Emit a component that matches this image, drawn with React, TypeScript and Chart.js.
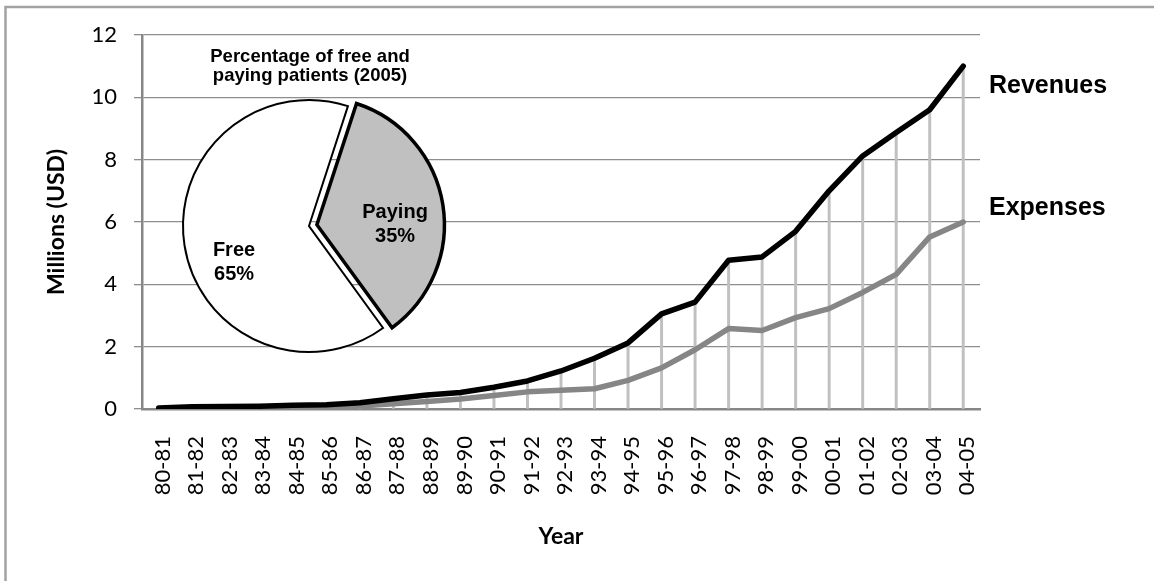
import React, { useEffect, useRef } from 'react';
import { Chart, registerables } from 'chart.js';

Chart.register(...registerables);

const YEARS = [
  '80-81', '81-82', '82-83', '83-84', '84-85', '85-86', '86-87', '87-88', '88-89', '89-90',
  '90-91', '91-92', '92-93', '93-94', '94-95', '95-96', '96-97', '97-98', '98-99', '99-00',
  '00-01', '01-02', '02-03', '03-04', '04-05',
];
const REVENUES = [
  0.03, 0.07, 0.08, 0.09, 0.12, 0.14, 0.2, 0.33, 0.45, 0.53,
  0.7, 0.9, 1.22, 1.63, 2.12, 3.05, 3.43, 4.77, 4.88, 5.7,
  7.0, 8.12, 8.87, 9.6, 11.0,
];
const EXPENSES = [
  0.01, 0.02, 0.03, 0.04, 0.06, 0.08, 0.1, 0.17, 0.24, 0.32,
  0.43, 0.55, 0.6, 0.65, 0.92, 1.32, 1.9, 2.58, 2.52, 2.93,
  3.22, 3.74, 4.32, 5.52, 6.0,
];
const Y_MIN = 0;
const Y_MAX = 12;
const Y_STEP = 2;
const END_LABELS = ['Revenues', 'Expenses'];
const END_LABEL_VALUES = [10.36, 6.44];
const Y_TITLE = 'Millions (USD)';
const X_TITLE = 'Year';

const PIE_LABELS = ['Free', 'Paying'];
const PIE_VALUES = [65, 35];
const PIE_TITLE = ['Percentage of free and', 'paying patients (2005)'];

const AXIS_FONT = 'Lato';
const ARIAL = '"Liberation Sans", Arial, sans-serif';

export default function App() {
  const mainRef = useRef<HTMLCanvasElement | null>(null);
  const pieRef = useRef<HTMLCanvasElement | null>(null);

  useEffect(() => {
    document.body.style.margin = '0';
    const mainCanvas = mainRef.current!;
    const pieCanvas = pieRef.current!;

    const framePlugin = {
      id: 'frame',
      beforeDraw(chart: any) {
        const ctx = chart.ctx;
        ctx.save();
        ctx.fillStyle = '#ffffff';
        ctx.fillRect(0, 0, chart.width, chart.height);
        ctx.strokeStyle = '#a3a3a3';
        ctx.lineWidth = 2.5;
        ctx.strokeRect(5.5, 7, chart.width + 50, chart.height + 50);
        ctx.restore();
      },
      afterDraw(chart: any) {
        const ctx = chart.ctx;
        const y = chart.scales.y;
        ctx.save();
        ctx.fillStyle = '#000';
        ctx.font = `bold 25px ${ARIAL}`;
        ctx.textAlign = 'left';
        ctx.textBaseline = 'middle';
        END_LABELS.forEach((t, i) => {
          ctx.fillText(t, chart.chartArea.right + 9, y.getPixelForValue(END_LABEL_VALUES[i]));
        });
        ctx.restore();
      },
    };

    const main = new Chart(mainCanvas, {
      type: 'line',
      data: {
        labels: YEARS,
        datasets: [
          {
            type: 'line',
            label: 'Revenues',
            data: REVENUES,
            borderColor: '#000000',
            borderWidth: 5.5,
            pointRadius: 0,
            tension: 0,
            borderJoinStyle: 'round',
            borderCapStyle: 'round',
            order: 1,
          } as any,
          {
            type: 'line',
            label: 'Expenses',
            data: EXPENSES,
            borderColor: '#868686',
            borderWidth: 5.5,
            pointRadius: 0,
            tension: 0,
            borderJoinStyle: 'round',
            borderCapStyle: 'round',
            order: 2,
          } as any,
          {
            type: 'bar',
            label: 'drop',
            data: REVENUES,
            backgroundColor: '#c0c0c0',
            barThickness: 2.3,
            order: 3,
          } as any,
        ],
      },
      options: {
        responsive: false,
        animation: false,
        events: [],
        layout: { padding: { left: 0, top: 35, right: 174, bottom: 0 } },
        plugins: { legend: { display: false }, tooltip: { enabled: false } },
        scales: {
          x: {
            type: 'category',
            offset: true,
            grid: { display: false, drawTicks: false },
            border: { display: true, color: '#878787', width: 2.5 },
            ticks: {
              autoSkip: false,
              minRotation: 90,
              maxRotation: 90,
              padding: 27,
              labelOffset: 4,
              color: '#000',
              font: { family: AXIS_FONT, size: 22 },
            },
            title: {
              display: true,
              text: X_TITLE,
              color: '#000',
              font: { family: AXIS_FONT, size: 23, weight: 'bold' },
              padding: { top: 0, bottom: 31 },
            },
            afterFit(scale: any) {
              scale.height = 172;
            },
          } as any,
          y: {
            min: Y_MIN,
            max: Y_MAX,
            grid: { color: '#8e8e8e', lineWidth: 1.3, tickLength: 8, tickColor: '#8e8e8e' },
            border: { display: true, color: '#878787', width: 2.5 },
            ticks: {
              stepSize: Y_STEP,
              padding: 17,
              color: '#000',
              font: { family: AXIS_FONT, size: 22 },
            },
            title: {
              display: true,
              text: Y_TITLE,
              color: '#000',
              font: { family: AXIS_FONT, size: 23, weight: 'bold' },
              padding: { top: 43, bottom: 0 },
            },
            afterFit(scale: any) {
              scale.width = 142;
            },
          } as any,
        },
      },
      plugins: [framePlugin],
    });

    const pieLabelPos = [
      [-0.595, 0.29],
      [0.683, -0.012],
    ];

    const pieTextPlugin = {
      id: 'pieText',
      afterDraw(chart: any) {
        const ctx = chart.ctx;
        const area = chart.chartArea;
        const cx = (area.left + area.right) / 2;
        ctx.save();
        ctx.fillStyle = '#000';
        ctx.textAlign = 'center';
        ctx.textBaseline = 'middle';
        ctx.font = `bold 18.5px ${ARIAL}`;
        ctx.fillText(PIE_TITLE[0], cx + 1, area.top - 19.5);
        ctx.fillText(PIE_TITLE[1], cx + 1, area.top - 0.5);
        const meta = chart.getDatasetMeta(0);
        ctx.font = `bold 20px ${ARIAL}`;
        meta.data.forEach((arc: any, i: number) => {
          const r = arc.outerRadius;
          const x = arc.x + pieLabelPos[i][0] * r;
          const y = arc.y + pieLabelPos[i][1] * r;
          ctx.fillText(PIE_LABELS[i], x, y - 12);
          ctx.fillText(`${PIE_VALUES[i]}%`, x, y + 12);
        });
        ctx.restore();
      },
    };

    const pie = new Chart(pieCanvas, {
      type: 'pie',
      data: {
        labels: PIE_LABELS,
        datasets: [
          {
            data: PIE_VALUES,
            backgroundColor: ['#ffffff', '#c0c0c0'],
            borderColor: '#000000',
            borderWidth: [2, 3.5],
            borderJoinStyle: 'miter',
            offset: [0, 32],
          } as any,
        ],
      },
      options: {
        responsive: false,
        animation: false,
        events: [],
        rotation: 144,
        radius: 126,
        layout: { padding: { top: 40, left: 0, right: 0, bottom: 0 } },
        plugins: { legend: { display: false }, tooltip: { enabled: false } },
      } as any,
      plugins: [pieTextPlugin],
    });

    return () => {
      main.destroy();
      pie.destroy();
    };
  }, []);

  return (
    <div style={{ position: 'relative', width: 1154, height: 581, background: '#fff' }}>
      <canvas ref={mainRef} width={1154} height={581} style={{ position: 'absolute', left: 0, top: 0 }} />
      <canvas ref={pieRef} width={300} height={340} style={{ position: 'absolute', left: 159, top: 36 }} />
    </div>
  );
}
